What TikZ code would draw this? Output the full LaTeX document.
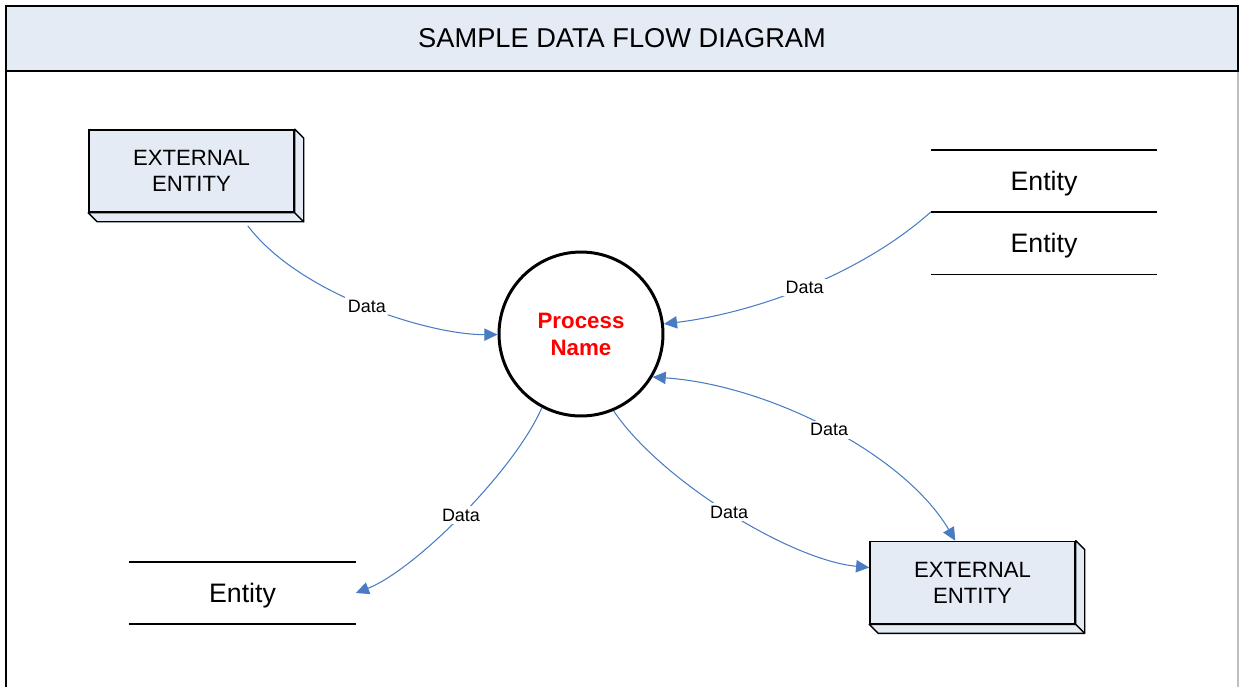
\documentclass[tikz,border=0pt]{standalone}
\usepackage{fontspec}
\setmainfont{Liberation Sans}
\usetikzlibrary{arrows.meta,positioning,calc}

\definecolor{paleblue}{HTML}{E4EBF5}
\definecolor{flowblue}{HTML}{4A7CC3}

\tikzset{
  titlebar/.style={draw, line width=1.1pt, fill=paleblue, minimum width=24.64cm,
    minimum height=1.3cm, font=\fontsize{15.5}{18}\selectfont},
  extbox/.style={draw, line width=0.9pt, fill=paleblue, minimum width=4.1cm,
    minimum height=1.64cm, inner sep=0pt, align=center,
    font=\fontsize{12.6}{14.8}\selectfont},
  depthface/.style={draw, line width=0.8pt, fill=paleblue, line join=round},
  process/.style={circle, draw, line width=1.7pt, minimum size=3.28cm, align=center,
    text=red, font=\bfseries\fontsize{12.7}{15.3}\selectfont},
  store/.style={minimum width=4.52cm, minimum height=1.23cm, inner sep=0pt,
    text depth=0pt, font=\fontsize{15.2}{18}\selectfont},
  storeline/.style={line width=0.8pt},
  dataflow/.style={draw=flowblue, line width=0.6pt},
  datalabel/.style={fill=white, inner sep=1.5pt, text=black,
    font=\fontsize{10.2}{12}\selectfont}
}

% side and bottom faces of an external entity
\newcommand{\extdepth}[1]{%
  \filldraw[depthface] (#1.north east) -- ++(9,9) -- ($(#1.south east)+(9,9)$)
    -- ($(#1.south west)+(9,9)$) -- (#1.south west) -- (#1.south east) -- cycle;
  \draw[depthface] (#1.south east) -- ++(9,9);
}

\begin{document}
\begin{tikzpicture}[x=0.02cm, y=-0.02cm, >={Triangle[length=7.5pt,width=7pt]}]
  \useasboundingbox (0,0) rectangle (1239,687);

  % frame and title
  \draw[line width=0.9pt] (6,71) -- (6,687);
  \draw[gray!50, line width=0.9pt] (1238,71) -- (1238,687);
  \node[titlebar] (title) at (622,38.5) {SAMPLE DATA FLOW DIAGRAM};

  % external entities
  \node[extbox] (ee1) at (191.5,171) {EXTERNAL\\ENTITY};
  \extdepth{ee1}
  \node[extbox] (ee2) at (972.5,582.5) {EXTERNAL\\ENTITY};
  \extdepth{ee2}

  % process
  \node[process] (proc) at (581,334) {Process\\Name};

  % data stores
  \node[store] (ds1a) at (1044,181) {Entity};
  \node[store, below=0pt of ds1a] (ds1b) {Entity};
  \draw[storeline] (ds1a.north west) -- (ds1a.north east);
  \draw[storeline] (ds1a.south west) -- (ds1a.south east);
  \draw[storeline] (ds1b.south west) -- (ds1b.south east);

  \node[store] (ds2) at (242.5,593) {Entity};
  \draw[storeline] (ds2.north west) -- (ds2.north east);
  \draw[storeline] (ds2.south west) -- (ds2.south east);

  % data flows
  \draw[dataflow, ->] ($(ee1.south east)+(-47,13)$) .. controls (300,295) and (430,335) .. (proc)
    node[datalabel, pos=0.5] {Data};
  \draw[dataflow, ->] (ds1a.south west) .. controls (860,275) and (754,313) .. (proc)
    node[datalabel, pos=0.5] {Data};
  \draw[dataflow, <->] (proc.-31) .. controls (770,385) and (905,455) .. ($(ee2.north west)+(86,0)$)
    node[datalabel, pos=0.5] {Data};
  \draw[dataflow, ->] (proc.-67) .. controls (660,480) and (790,560) .. ($(ee2.west)+(0,-15)$)
    node[datalabel, pos=0.5] {Data};
  \draw[dataflow, ->] (proc.-118) .. controls (515,470) and (415,570) .. (ds2.east)
    node[datalabel, pos=0.5] {Data};
\end{tikzpicture}
\end{document}
